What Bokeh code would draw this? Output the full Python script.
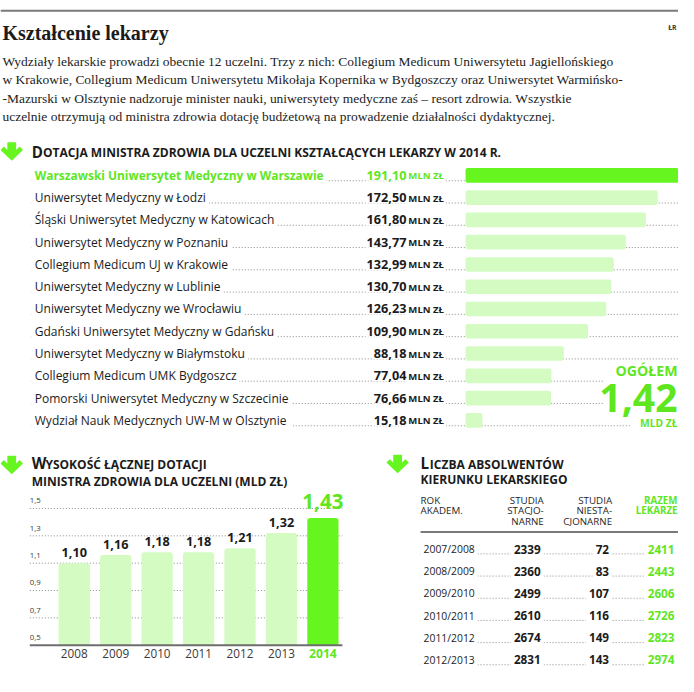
from bokeh.plotting import figure
from bokeh.models import Range1d
from bokeh.core.properties import value
from bokeh.embed import file_html
from bokeh.resources import INLINE

# ---------------- data ----------------
tytul = "Kształcenie lekarzy"
lead_lines = [
    "Wydziały lekarskie prowadzi obecnie 12 uczelni. Trzy z nich: Collegium Medicum Uniwersytetu Jagiellońskiego",
    "w Krakowie, Collegium Medicum Uniwersytetu Mikołaja Kopernika w Bydgoszczy oraz Uniwersytet Warmińsko-",
    "-Mazurski w Olsztynie nadzoruje minister nauki, uniwersytety medyczne zaś – resort zdrowia. Wszystkie",
    "uczelnie otrzymują od ministra zdrowia dotację budżetową na prowadzenie działalności dydaktycznej.",
]

uczelnie = [
    "Warszawski Uniwersytet Medyczny w Warszawie",
    "Uniwersytet Medyczny w Łodzi",
    "Śląski Uniwersytet Medyczny w Katowicach",
    "Uniwersytet Medyczny w Poznaniu",
    "Collegium Medicum UJ w Krakowie",
    "Uniwersytet Medyczny w Lublinie",
    "Uniwersytet Medyczny we Wrocławiu",
    "Gdański Uniwersytet Medyczny w Gdańsku",
    "Uniwersytet Medyczny w Białymstoku",
    "Collegium Medicum UMK Bydgoszcz",
    "Pomorski Uniwersytet Medyczny w Szczecinie",
    "Wydział Nauk Medycznych UW-M  w Olsztynie",
]
dotacja_2014 = [191.10, 172.50, 161.80, 143.77, 132.99, 130.70,
                126.23, 109.90, 88.18, 77.04, 76.66, 15.18]
ogolem = "1,42"

lata = ["2008", "2009", "2010", "2011", "2012", "2013", "2014"]
dotacja_laczna = [1.10, 1.16, 1.18, 1.18, 1.21, 1.32, 1.43]
y_ticks = [0.5, 0.7, 0.9, 1.1, 1.3, 1.5]

lata_akad = ["2007/2008", "2008/2009", "2009/2010", "2010/2011", "2011/2012", "2012/2013"]
stacjonarne = [2339, 2360, 2499, 2610, 2674, 2831]
niestacjonarne = [72, 83, 107, 116, 149, 143]
razem = [2411, 2443, 2606, 2726, 2823, 2974]

# ---------------- style ----------------
S = 678 / 694
def fs(px):
    return f"{px * S:.2f}px"

GREEN = "#66f51f"
GREEN_TXT = "#5fe61f"
PALE = "#d4fbc2"
INK = "#1b1b1b"
GREY = "#3a3a3a"
DOT = "#8a8a8a"
SANS = "Open Sans"
SERIF = "Liberation Serif"

p = figure(width=678, height=676, x_range=Range1d(0, 694), y_range=Range1d(692, 0),
           toolbar_location=None, output_backend="svg", min_border=0,
           x_axis_location=None, y_axis_location=None, outline_line_color=None,
           background_fill_color="white", border_fill_color="white")
p.grid.visible = False

# extra scales
k_h = (694 - 476) / max(dotacja_2014)
k_vx = (330 - 75.5) / (len(lata) - 1)
k_vy = 140.0
p.extra_x_ranges = {
    "hb": Range1d(-476 / k_h, (694 - 476) / k_h),
    "vx": Range1d(-75.5 / k_vx, (694 - 75.5) / k_vx),
}
p.extra_y_ranges = {
    "vy": Range1d(0.5 - (692 - 660) / k_vy, 0.5 + 660 / k_vy),
}


def txt(x, y, s, size, color=INK, style="normal", font=SANS, align="left",
        baseline="middle", bg=False, pad=2, **kw):
    extra = {}
    if bg:
        extra = dict(background_fill_color="white", padding=pad)
    p.text(x=x if isinstance(x, list) else [x], y=y if isinstance(y, list) else [y],
           text=s if isinstance(s, list) else [s],
           text_font=value(font), text_font_size=fs(size), text_font_style=style,
           text_color=color, text_align=align, text_baseline=baseline, **extra, **kw)


def arrow(x0, y0):
    shape = [(6, 0), (15, 0), (15, 8), (18.5, 4.5), (22, 8), (10.5, 19),
             (-1, 8), (2.5, 4.5), (6, 8)]
    p.patch([x0 + a for a, b in shape], [y0 + b for a, b in shape],
            fill_color=GREEN, line_color=None)


def smallcaps(x, y, first, rest_x, rest, big=15.5, small=12.3):
    txt(x, y - 1.1, first, big, style="bold")
    txt(rest_x, y, rest, small, style="bold")


# ---------------- header ----------------
p.segment(x0=[0], y0=[10.5], x1=[694], y1=[10.5], line_color="#7a7a7a", line_width=2)
txt(692, 28, "ŁR", 7, color=GREY, style="bold", align="right")
txt(2, 33, tytul, 20.5, style="bold", font=SERIF)
for i, line in enumerate(lead_lines):
    txt(2, 62 + 19 * i, line, 13.8, color="#222", font=SERIF)

# ---------------- section 1: horizontal bars ----------------
arrow(1, 145)
smallcaps(32, 156, "D", 43.5, "OTACJA MINISTRA ZDROWIA DLA UCZELNI KSZTAŁCĄCYCH LEKARZY W 2014 R.")

row_y = [179 + 22.8 * i for i in range(len(uczelnie))]
dot_end = [694] * 9 + [618, 618, 644]
p.segment(x0=[32] * len(row_y), y0=[y + 5.5 for y in row_y], x1=dot_end,
          y1=[y + 5.5 for y in row_y], line_color=DOT, line_width=1, line_dash="1 2")

cols = [GREEN_TXT] + [INK] * (len(uczelnie) - 1)
txt(32, row_y[0], uczelnie[0], 12.2, color=GREEN_TXT, style="bold", bg=True, pad=3)
txt([32] * (len(uczelnie) - 1), row_y[1:], uczelnie[1:], 12.3, color=INK, bg=True, pad=3)
vals = [f"{v:.2f}".replace(".", ",") for v in dotacja_2014]
p.text(x=[456] * len(vals), y=[y + 0.5 for y in row_y], text=["MLN ZŁ"] * len(vals),
       text_font=value(SANS), text_font_size=fs(9.8), text_font_style="bold", text_color=cols,
       text_align="right", text_baseline="middle",
       background_fill_color="white", padding=2)
p.text(x=[416.5] * len(vals), y=row_y, text=vals, text_font=value(SANS),
       text_font_size=fs(13), text_font_style="bold", text_color=cols,
       text_align="right", text_baseline="middle",
       background_fill_color="white", padding=1)
bar_cols = [GREEN] + [PALE] * (len(uczelnie) - 1)
p.hbar(y=row_y, left=0, right=dotacja_2014, height=15, x_range_name="hb",
       fill_color=bar_cols, line_color=None, border_radius=2)

txt(693, 379, "OGÓŁEM", 14.5, color=GREEN_TXT, style="bold", align="right")
txt(693, 407, ogolem, 40, color=GREEN_TXT, style="bold", align="right")
txt(693, 432.5, "MLD ZŁ", 10.5, color=GREEN_TXT, style="bold", align="right")

# ---------------- section 2: vertical bars ----------------
arrow(1, 466)
smallcaps(32, 475, "W", 46, "YSOKOŚĆ ŁĄCZNEJ DOTACJI")
txt(32, 492, "MINISTRA ZDROWIA DLA UCZELNI (MLD ZŁ)", 12.3, style="bold")

grid_t = y_ticks[1:]
p.segment(x0=[30] * len(grid_t), y0=grid_t, x1=[350] * len(grid_t), y1=grid_t,
          y_range_name="vy", line_color=DOT, line_width=1, line_dash="1 2")
p.text(x=[30] * len(y_ticks), y=y_ticks, text=[f"{t:.1f}".replace(".", ",") for t in y_ticks],
       y_range_name="vy", y_offset=-8 * S, text_font=value(SANS), text_font_size=fs(8),
       text_color=GREY, text_align="left", text_baseline="middle")

idx = list(range(len(lata)))
vcols = [PALE] * (len(lata) - 1) + [GREEN]
p.vbar(x=idx, top=dotacja_laczna, bottom=y_ticks[0], width=32 / k_vx,
       x_range_name="vx", y_range_name="vy", fill_color=vcols, line_color=None,
       border_radius=(3, 3, 0, 0))
p.segment(x0=[30], y0=[y_ticks[0]], x1=[350], y1=[y_ticks[0]], y_range_name="vy",
          line_color="#6e6e6e", line_width=2)

vlab = [f"{v:.2f}".replace(".", ",") for v in dotacja_laczna]
p.text(x=idx[:-1], y=dotacja_laczna[:-1], text=vlab[:-1], x_range_name="vx", y_range_name="vy",
       y_offset=-10.5 * S, text_font=value(SANS), text_font_size=fs(13), text_font_style="bold",
       text_color=INK, text_align="center", text_baseline="middle")
p.text(x=idx[-1:], y=dotacja_laczna[-1:], text=vlab[-1:], x_range_name="vx", y_range_name="vy",
       y_offset=-17 * S, text_font=value(SANS), text_font_size=fs(21), text_font_style="bold",
       text_color=GREEN_TXT, text_align="center", text_baseline="middle")
p.text(x=idx[:-1], y=[668] * (len(lata) - 1), text=lata[:-1], x_range_name="vx",
       text_font=value(SANS), text_font_size=fs(12), text_color=GREY,
       text_align="center", text_baseline="middle")
p.text(x=idx[-1:], y=[668], text=lata[-1:], x_range_name="vx",
       text_font=value(SANS), text_font_size=fs(12.5), text_font_style="bold",
       text_color=GREEN_TXT, text_align="center", text_baseline="middle")

# ---------------- section 3: table ----------------
arrow(396, 465)
smallcaps(430, 475, "L", 439.5, "ICZBA ABSOLWENTÓW")
txt(430, 490.5, "KIERUNKU LEKARSKIEGO", 12.3, style="bold")

hdr = 10
HC = "#262626"
txt(430, 512, "ROK", hdr, color=HC)
txt(430, 522.5, "AKADEM.", hdr, color=HC)
for j, s in enumerate(["STUDIA", "STACJO-", "NARNE"]):
    txt(556, 512 + 10.5 * j, s, hdr, color=HC, align="right")
for j, s in enumerate(["STUDIA", "NIESTA-", "CJONARNE"]):
    txt(626, 512 + 10.5 * j, s, hdr, color=HC, align="right")
for j, s in enumerate(["RAZEM", "LEKARZE"]):
    txt(693, 512 + 10.5 * j, s, hdr, color=GREEN_TXT, style="bold", align="right")
p.segment(x0=[430], y0=[544], x1=[694], y1=[544], line_color="#7a7a7a", line_width=2)

trow = [561.5 + 22.7 * i for i in range(len(lata_akad))]
n = len(trow)
p.segment(x0=[430] * n, y0=[y + 5 for y in trow], x1=[694] * n, y1=[y + 5 for y in trow],
          line_color=DOT, line_width=1, line_dash="1 2")
txt([430] * n, trow, lata_akad, 10.6, color=INK, bg=True, pad=3)
txt([556] * n, trow, [str(v) for v in stacjonarne], 12, style="bold", align="right", bg=True, pad=3)
txt([626] * n, trow, [str(v) for v in niestacjonarne], 12, style="bold", align="right", bg=True, pad=3)
txt([693] * n, trow, [str(v) for v in razem], 12, color=GREEN_TXT, style="bold",
    align="right", bg=True, pad=3)

open("out.html", "w").write(file_html(p, INLINE))
